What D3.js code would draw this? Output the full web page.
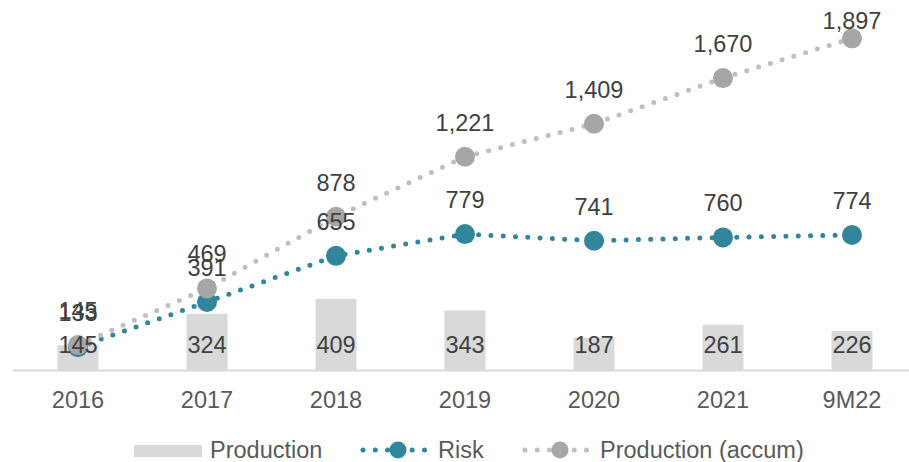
<!DOCTYPE html>
<html><head><meta charset="utf-8">
<script src="https://cdn.jsdelivr.net/npm/d3@7"></script>
<style>
html,body{margin:0;padding:0;background:#fff;}
svg{display:block;font-family:"Liberation Sans",Arial,sans-serif;}
</style></head>
<body><svg id="c" width="909" height="462"></svg>
<script>
const categories = ["2016","2017","2018","2019","2020","2021","9M22"];
const production = [145,324,409,343,187,261,226];
const risk = [133,391,655,779,741,760,774];
const productionAccum = [145,469,878,1221,1409,1670,1897];
const legendLabels = ["Production","Risk","Production (accum)"];

const teal = "#31869b", grayMark = "#a6a6a6", grayLine = "#bfbfbf", barColor = "#d9d9d9", textColor = "#404040";
const fs = 23.5;
const svg = d3.select("#c");
const x = d3.scaleBand().domain(categories).range([13.5, 916.5]).padding(0);
const y = d3.scaleLinear().domain([0, 2000]).range([370.5, 20.3]);
const fmt = d3.format(",");
const cx = c => x(c) + x.bandwidth()/2;

// bars
const barW = 41;
svg.append("g").selectAll("rect").data(categories).join("rect")
  .attr("x", c => cx(c) - barW/2).attr("width", barW)
  .attr("y", (c,i) => y(production[i])).attr("height", (c,i) => y(0) - y(production[i]))
  .attr("fill", barColor);

// axis
const axis = svg.append("g").attr("transform", `translate(0,${y(0)})`)
  .call(d3.axisBottom(x).tickSize(0).tickPadding(0));
axis.select(".domain").attr("stroke", "#d9d9d9").attr("stroke-width", 2).attr("d", "M13,0H909");
axis.selectAll("text").attr("font-size", fs).attr("fill", "#595959")
  .attr("dy", null).attr("y", 37.5).attr("font-family", "Liberation Sans, Arial, sans-serif");

// lines
function drawSeries(vals, lineColor, markColor) {
  const line = d3.line().x((d,i) => cx(categories[i])).y(d => y(d));
  const g = svg.append("g");
  g.append("path").attr("d", line(vals)).attr("fill", "none")
    .attr("stroke", lineColor).attr("stroke-width", 5)
    .attr("stroke-linecap", "round").attr("stroke-dasharray", "0 12.3");
  g.selectAll("circle").data(vals).join("circle")
    .attr("cx", (d,i) => cx(categories[i])).attr("cy", d => y(d)).attr("r", 10)
    .attr("fill", markColor);
  return g;
}
drawSeries(risk, teal, teal);
drawSeries(productionAccum, grayLine, grayMark);

// labels
function labels(vals) {
  svg.append("g").selectAll("text").data(vals).join("text")
    .attr("x", (d,i) => cx(categories[i]))
    .attr("y", d => Math.max(y(d) - 26, 29.3))
    .attr("text-anchor", "middle").attr("font-size", fs).attr("fill", textColor)
    .text(d => fmt(d));
}
labels(risk);
labels(productionAccum);
svg.append("g").selectAll("text").data(production).join("text")
  .attr("x", (d,i) => cx(categories[i])).attr("y", y(0) - 17.5)
  .attr("text-anchor", "middle").attr("font-size", fs).attr("fill", textColor)
  .text(d => fmt(d));

// legend
const lg = svg.append("g");
lg.append("rect").attr("x", 134).attr("y", 445).attr("width", 68).attr("height", 12).attr("fill", barColor);
lg.append("text").attr("x", 210).attr("y", 457.5).attr("font-size", fs).attr("fill", "#595959").text(legendLabels[0]);
function legLine(x0, color, mcolor, label) {
  lg.append("line").attr("x1", x0).attr("x2", x0 + 66).attr("y1", 450).attr("y2", 450)
    .attr("stroke", color).attr("stroke-width", 5).attr("stroke-linecap", "round").attr("stroke-dasharray", "0 12.3");
  lg.append("circle").attr("cx", x0 + 35).attr("cy", 450).attr("r", 8.5).attr("fill", mcolor);
  lg.append("text").attr("x", x0 + 75).attr("y", 457.5).attr("font-size", fs).attr("fill", "#595959").text(label);
}
legLine(363, teal, teal, legendLabels[1]);
legLine(525, grayLine, grayMark, legendLabels[2]);
</script></body></html>
